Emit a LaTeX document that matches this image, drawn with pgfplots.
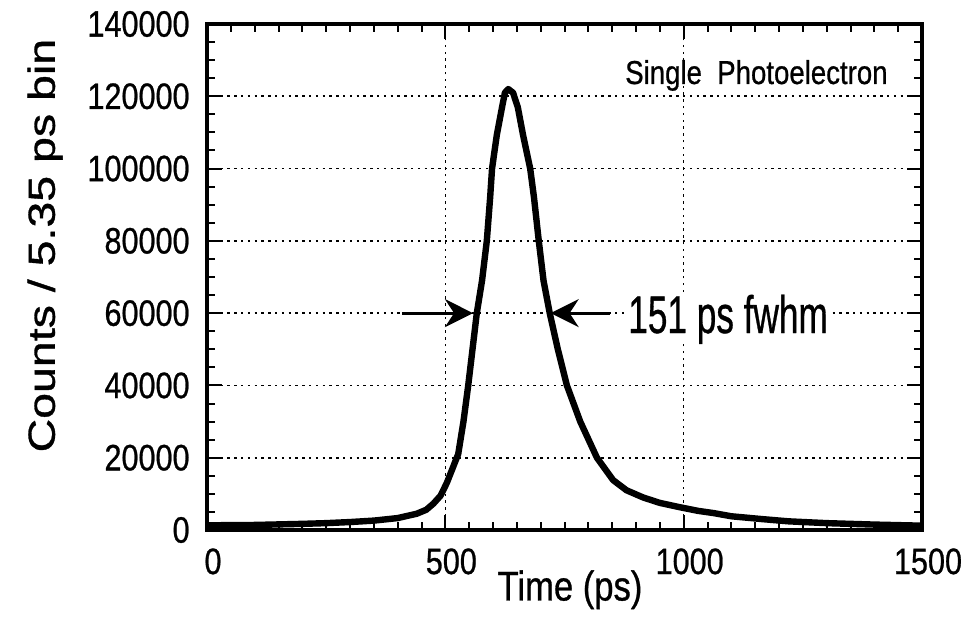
\documentclass[border=0pt]{standalone}
\usepackage{fontspec}
\setmainfont{Liberation Sans}[FakeBold=0.8]
\usepackage{pgfplots}
\pgfplotsset{compat=1.18}
\usetikzlibrary{arrows.meta}
\newcommand{\sy}[1]{\scalebox{1}[1.2]{#1}}
\begin{document}
\begin{tikzpicture}
\path[use as bounding box] (-103.5pt,-45.5pt) rectangle (382.5pt,265pt);
\begin{axis}[
  at={(0,0)}, anchor=south west,
  scale only axis, width=357.5pt, height=253pt,
  xmin=0, xmax=1500, ymin=0, ymax=140000,
  xtick={0,500,1000,1500}, ytick={0,20000,40000,60000,80000,100000,120000,140000},
  xticklabels={\sy{0},\sy{500},\sy{1000},\sy{1500}},
  yticklabels={\sy{0},\sy{20000},\sy{40000},\sy{60000},\sy{80000},\sy{100000},\sy{120000},\sy{140000}},
  minor x tick num=9, minor y tick num=3,
  tick align=inside, tick pos=both,
  major tick length=7.5pt, minor tick length=4pt,
  every tick/.style={black, line width=1pt},
  axis line style={line width=2pt},
  grid=major,
  major grid style={black, line width=0.8pt, dash pattern=on 1.2pt off 2.2pt},
  scaled y ticks=false, scaled x ticks=false,
  xticklabel style={font=\fontsize{15.3}{18}\selectfont, anchor=north, inner sep=0pt, yshift=-9pt, xshift=3pt},
  yticklabel style={font=\fontsize{15.3}{18}\selectfont, anchor=east, inner sep=0pt, xshift=-8.5pt},
]
\addplot[black, line width=3.2pt, line join=round, line cap=round] coordinates {
(0,1300) (50,1350) (100,1400) (150,1550) (200,1700) (250,1900) (300,2200)
(350,2600) (400,3300) (440,4500) (460,5600) (475,7300) (490,9500)
(503,13000) (515,17000) (527,21000) (538,30000) (548,40000) (557,50000)
(566,60000) (577,69000) (587,80000) (594,92000) (598,100000) (608,109300)
(619,117000) (625,121000) (632,122000) (642,121000) (652,117000)
(663,109300) (678,100000) (686,92000) (696,80000) (706,69000) (719,60000)
(736,50000) (755,40000) (783,30000) (818,20000) (852,13800) (880,11000)
(915,9000) (950,7500) (992,6300) (1030,5300) (1062,4700) (1100,3800)
(1166,3000) (1220,2400) (1300,1900) (1400,1500) (1500,1200)
};
\draw[black, line width=1.5pt, -{Stealth[length=14pt,width=14pt]}] (axis cs:409,60000) -- (axis cs:558,60000);
\draw[black, line width=1.5pt, -{Stealth[length=14pt,width=14pt]}] (axis cs:845,60000) -- (axis cs:721,60000);
\node[anchor=base west, inner sep=0pt, fill=white, font=\fontsize{22}{26}\selectfont] at (axis cs:883,54506) {\scalebox{0.8}[1.2]{151 ps fwhm}};
\node[anchor=base east, inner sep=0pt, font=\fontsize{13.8}{16}\selectfont] at (axis cs:1428.7,123400) {\scalebox{1}[1.2]{Single\ \ Photoelectron}};
\end{axis}
\node[rotate=90, anchor=north, inner sep=0pt, font=\fontsize{18.9}{22}\selectfont] at (-90pt,142.2pt) {\scalebox{1.23}[1]{Counts / 5.35 ps bin}};
\node[anchor=north, inner sep=0pt, font=\fontsize{17.3}{20}\selectfont] at (181.5pt,-20pt) {\scalebox{1}[1.2]{Time (ps)}};
\end{tikzpicture}
\end{document}
